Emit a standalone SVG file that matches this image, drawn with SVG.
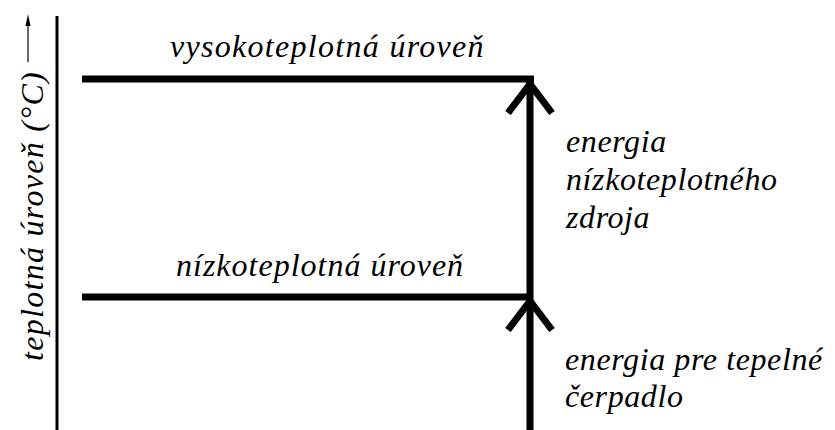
<svg xmlns="http://www.w3.org/2000/svg" width="835" height="430" viewBox="0 0 835 430">
<style>
.thick{stroke:#000;stroke-width:7;fill:none}
.head{stroke:#000;stroke-width:7;fill:none;stroke-linecap:butt;stroke-linejoin:miter}
</style>
<rect width="835" height="430" fill="#fff"/>
<g id="axis">
<line x1="57" y1="16" x2="57" y2="430" stroke="#000" stroke-width="3"/>
<line x1="28" y1="62" x2="28" y2="24" stroke="#000" stroke-width="1.2"/>
<polygon points="28,14 25.5,26 30.5,26" fill="#000"/>
<text font-family="Liberation Serif" font-style="italic" font-size="32" letter-spacing="1.3" text-anchor="middle" transform="translate(43,216) rotate(-90)">teplotná úroveň (°C)</text>
</g>
<g id="high-level">
<line class="thick" x1="82" y1="79" x2="534" y2="79"/>
<text font-family="Liberation Serif" font-style="italic" font-size="32" letter-spacing="1.3" x="170" y="57">vysokoteplotná úroveň</text>
</g>
<g id="low-level">
<line class="thick" x1="82" y1="297" x2="530" y2="297"/>
<text font-family="Liberation Serif" font-style="italic" font-size="32" letter-spacing="1" x="176" y="276">nízkoteplotná úroveň</text>
</g>
<g id="connectors">
<line class="thick" x1="530" y1="79" x2="530" y2="430"/>
<polyline class="head" points="508,113 530,84 552,113"/>
<polyline class="head" points="508,330 530,301 552,330"/>
</g>
<g id="label-source">
<text font-family="Liberation Serif" font-style="italic" font-size="32" letter-spacing="0.6" x="566" y="152">energia</text>
<text font-family="Liberation Serif" font-style="italic" font-size="32" letter-spacing="0.6" x="566" y="190">nízkoteplotného</text>
<text font-family="Liberation Serif" font-style="italic" font-size="32" letter-spacing="0.6" x="566" y="228">zdroja</text>
</g>
<g id="label-pump">
<text font-family="Liberation Serif" font-style="italic" font-size="32" letter-spacing="0.6" x="565" y="370">energia pre tepelné</text>
<text font-family="Liberation Serif" font-style="italic" font-size="32" letter-spacing="0.6" x="565" y="407">čerpadlo</text>
</g>
</svg>
